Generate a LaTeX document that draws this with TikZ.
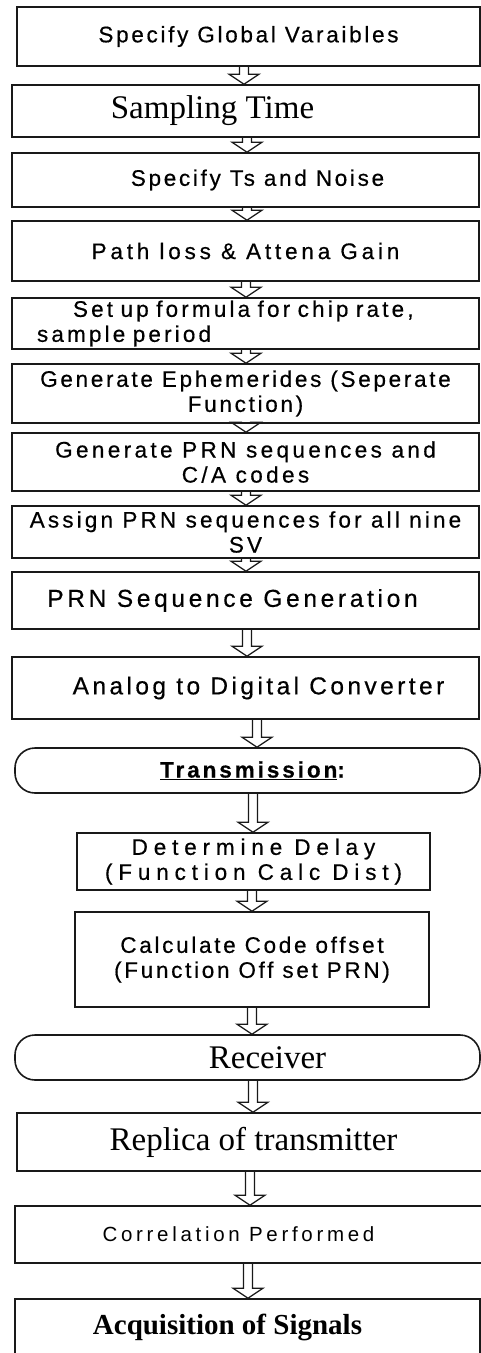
\documentclass[tikz,border=0pt]{standalone}
\usepackage{fontspec}
\setmainfont{Liberation Serif}
\setsansfont{Liberation Sans}
\usetikzlibrary{calc}

\tikzset{
  box/.style={draw=black!90, line width=1.6pt, minimum width=467pt, inner sep=0pt, align=center},
  term/.style={box, rounded corners=20pt},
  sans/.style 2 args={font=\sffamily\fontsize{#1}{25}\selectfont\addfontfeature{LetterSpace=#2,FakeBold=0.5}},
  thin/.style={font=\sffamily\fontsize{20.5}{25}\selectfont\addfontfeature{LetterSpace=#1}},
  rom/.style={font=\fontsize{33}{38}\selectfont},
  nudge/.style={execute at begin node={\hspace*{#1}\hspace*{#1}}},
  flow/.style={line width=1.3pt, black!90},
}

% hollow down arrow from box #1 to box #2 at x = #3
\newcommand{\flowarrow}[3]{%
  \draw[flow] let \p1=(#1.south), \p2=(#2.north) in
    (#3pt-4.5pt,\y1) -- (#3pt-4.5pt,\y2+10pt) -- (#3pt-15pt,\y2+10pt) -- (#3pt,\y2)
    -- (#3pt+15pt,\y2+10pt) -- (#3pt+4.5pt,\y2+10pt) -- (#3pt+4.5pt,\y1);}

\begin{document}
\begin{tikzpicture}[x=1pt,y=-1pt]
  \useasboundingbox (0,0) rectangle (481,1353);
  \clip (0,0) rectangle (481,1353);

  % Setup blocks
  \node[box, sans={22.5}{12}, minimum width=463pt, minimum height=59pt] (global) at (248.5,36.5) {Specify Global Varaibles};
  \node[box, rom, minimum height=52pt, nudge=-33pt] (time) at (245.5,111) {Sampling Time};
  \node[box, sans={22.5}{12}, minimum height=54pt, nudge=12pt] (noise) at (245.5,180) {Specify Ts and Noise};
  \node[box, sans={22.5}{17}, minimum height=60pt] (loss) at (245.5,251) {Path loss \& Attena Gain};
  \node[box, sans={22.5}{14}, minimum height=51pt, text width=417pt, align=left] (chip) at (245.5,323.5) {\hspace*{36pt}Set up formula for chip rate,\\sample period};

  % PRN generation
  \node[box, sans={22.5}{12}, minimum height=59pt] (ephem) at (245.5,393.5) {Generate Ephemerides (Seperate\\Function)};
  \node[box, sans={22.5}{15}, minimum height=58pt] (codes) at (245.5,462) {Generate PRN sequences and\\C/A codes};
  \node[box, sans={22.5}{14}, minimum height=52pt] (assign) at (245.5,532) {Assign PRN sequences for all nine\\SV};
  \node[box, sans={24.5}{15}, minimum height=57pt, nudge=-13pt] (prnseq) at (245.5,600.5) {PRN Sequence Generation};
  \node[box, sans={24.5}{14}, minimum height=62pt, nudge=13pt] (adc) at (245.5,688) {Analog to Digital Converter};

  % Transmission
  \node[term, sans={22.5}{13}, minimum width=465pt, minimum height=45pt, nudge=5pt] (trans) at (247.5,770.5) {\bfseries\underline{Transmission}:};
  \node[box, sans={22.5}{26}, minimum width=353pt, minimum height=57pt] (delay) at (253.5,861.5) {Determine Delay\\(Function Calc Dist)};
  \node[box, sans={22.5}{12}, minimum width=354pt, minimum height=95pt] (offset) at (252,959.5) {Calculate Code offset\\(Function Off set PRN)};

  % Receiver
  \node[term, rom, minimum width=465pt, minimum height=45pt, nudge=20pt] (rx) at (247.5,1057.5) {Receiver};
  \node[box, rom, minimum width=473pt, minimum height=58pt] (replica) at (253.5,1142) {Replica of transmitter};
  \node[box, thin=18, minimum width=475pt, minimum height=57pt, nudge=-14pt] (corr) at (252.5,1234.5) {Correlation Performed};
  \node[box, font=\bfseries\fontsize{29}{34}\selectfont, minimum width=465pt, minimum height=56pt, nudge=-20pt] (acq) at (247.5,1327) {Acquisition of Signals};

  % Arrows
  \flowarrow{global}{time}{244}
  \flowarrow{time}{noise}{247}
  \flowarrow{noise}{loss}{247}
  \flowarrow{loss}{chip}{246}
  \flowarrow{chip}{ephem}{246}
  \flowarrow{ephem}{codes}{246}
  \flowarrow{codes}{assign}{246}
  \flowarrow{assign}{prnseq}{246}
  \flowarrow{prnseq}{adc}{247}
  \flowarrow{adc}{trans}{257}
  \flowarrow{trans}{delay}{253}
  \flowarrow{delay}{offset}{252}
  \flowarrow{offset}{rx}{252}
  \flowarrow{rx}{replica}{253}
  \flowarrow{replica}{corr}{250}
  \flowarrow{corr}{acq}{248}
\end{tikzpicture}
\end{document}
